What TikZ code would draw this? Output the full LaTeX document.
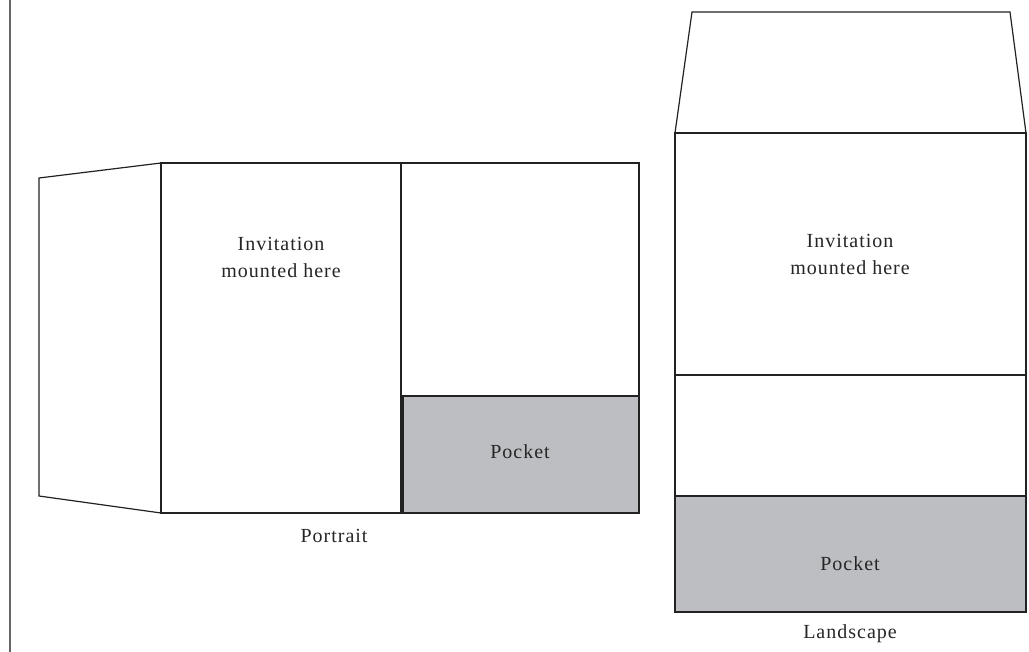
\documentclass[tikz,border=0pt]{standalone}
\usepackage{fontspec}
\setmainfont{Liberation Serif}[LetterSpace=5]
\definecolor{pocketgray}{HTML}{BDBEC2}
\definecolor{edge}{HTML}{222222}
\definecolor{rule}{HTML}{666666}
\begin{document}
\begin{tikzpicture}[x=1pt,y=-1pt,
  panel/.style={draw=edge,line width=1.2pt,fill=white},
  pocketbox/.style={draw=edge,line width=1.2pt,fill=pocketgray},
  lbl/.style={font=\fontsize{20}{27}\selectfont,text=black!85,align=center,inner sep=0pt}]
\useasboundingbox (0,0) rectangle (1029,652);
\draw[rule,line width=2pt] (10,0) -- (10,652);
% Portrait
\draw[panel] (39,178) -- (161,163) -- (161,513) -- (39,496) -- cycle;
\draw[panel] (161,163) rectangle (401,513);
\draw[panel] (401,163) rectangle (639,513);
\draw[pocketbox] (403,396) rectangle (639,513);
\node[lbl] (pinv) at (281,257) {Invitation\\mounted here};
\node[lbl] (ppock) at (520,452) {Pocket};
\node[lbl] (port) at (334,536) {Portrait};
% Landscape
\draw[panel] (692,12) -- (1010,12) -- (1026,133) -- (675,133) -- cycle;
\draw[panel] (675,133) rectangle (1026,612);
\draw[edge,line width=1.2pt] (675,375) -- (1026,375);
\draw[pocketbox] (675,496) rectangle (1026,612);
\node[lbl] (linv) at (850,254) {Invitation\\mounted here};
\node[lbl] (lpock) at (850,564) {Pocket};
\node[lbl] (land) at (850,634) {Landscape};
\end{tikzpicture}
\end{document}
